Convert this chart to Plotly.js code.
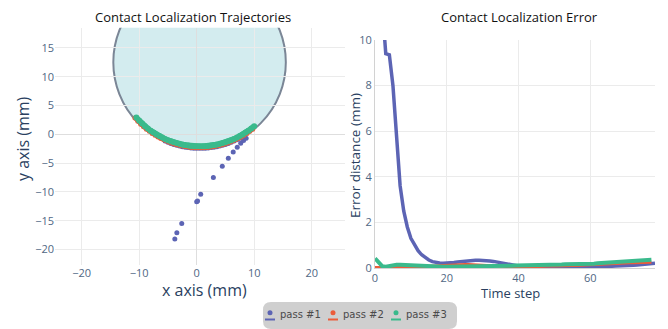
<!DOCTYPE html>
<html>
<head>
<meta charset="utf-8">
<script src="https://cdn.plot.ly/plotly-3.0.1.min.js"></script>
<style>
  html, body { margin: 0; padding: 0; background: #ffffff; }
  #chart { width: 668px; height: 329px; }
</style>
</head>
<body>
<div id="chart"></div>
<script>
// ---- data -------------------------------------------------------------
const passNames = ['pass #1', 'pass #2', 'pass #3'];

// estimated contact points (mm), one list per pass
const pass1X = [-3.8, -3.45, -2.6, 0.0, 0.15, 0.7, 2.9, 4.45, 5.5, 6.35, 7.05, 7.65, 8.15, 8.6,
  8.0, 7.5, 7.0, 6.5, 6.0, 5.5, 5.0, 4.5, 4.0, 3.5, 3.0, 2.5, 2.0, 1.5, 1.0, 0.5, 0.0,
  -0.5, -1.0, -1.5, -2.0, -2.5, -3.0, -3.5, -4.0, -4.5, -5.0, -5.5];
const pass1Y = [-18.2, -17.1, -15.5, -11.7, -11.6, -10.4, -7.5, -5.55, -4.15, -3.1, -2.25, -1.55, -1.1, -0.7,
  -0.43, -0.71, -0.96, -1.19, -1.40, -1.59, -1.76, -1.91, -2.03, -2.15, -2.24, -2.32, -2.37, -2.42, -2.44, -2.45, -2.44,
  -2.42, -2.37, -2.32, -2.24, -2.15, -2.03, -1.91, -1.76, -1.59, -1.40, -1.19];

const pass2X = [-10.75, -10.25, -9.75, -9.25, -8.75, -8.25, -7.75, -7.25, -6.75, -6.25, -5.75, -5.25, -4.75, -4.25,
  -3.75, -3.25, -2.75, -2.25, -1.75, -1.25, -0.75, -0.25, 0.25, 0.75, 1.25, 1.75, 2.25, 2.75, 3.25, 3.75,
  4.25, 4.75, 5.25, 5.75, 6.25, 6.75, 7.25, 7.75, 8.25, 8.75, 9.25, 9.75];
const pass2Y = [2.81, 2.26, 1.75, 1.30, 0.88, 0.50, 0.15, -0.17, -0.46, -0.73, -0.97, -1.19, -1.39, -1.57,
  -1.73, -1.87, -1.99, -2.09, -2.18, -2.25, -2.30, -2.33, -2.35, -2.35, -2.33, -2.30, -2.25, -2.18, -2.09, -1.99,
  -1.87, -1.73, -1.57, -1.39, -1.19, -0.97, -0.73, -0.46, -0.17, 0.15, 0.50, 0.88];

const pass3X = [-10.5, -10.0, -9.5, -9.0, -8.5, -8.0, -7.5, -7.0, -6.5, -6.0, -5.5, -5.0, -4.5, -4.0,
  -3.5, -3.0, -2.5, -2.0, -1.5, -1.0, -0.5, 0.0, 0.5, 1.0, 1.5, 2.0, 2.5, 3.0, 3.5, 4.0,
  4.5, 5.0, 5.5, 6.0, 6.5, 7.0, 7.5, 8.0, 8.5, 9.0, 9.5, 10.0];
const pass3Y = [2.90, 2.36, 1.86, 1.41, 1.00, 0.63, 0.29, -0.03, -0.31, -0.57, -0.81, -1.02, -1.22, -1.39,
  -1.54, -1.67, -1.79, -1.88, -1.96, -2.02, -2.07, -2.09, -2.10, -2.09, -2.07, -2.02, -1.96, -1.88, -1.79, -1.67,
  -1.54, -1.39, -1.22, -1.02, -0.81, -0.57, -0.31, -0.03, 0.29, 0.63, 1.00, 1.41];

// object outline (mm)
const objectCenterX = 0.5;
const objectCenterY = 12.5;
const objectRadius = 15;

// localization error per time step (mm)
const error1 = [13.5, 12.6, 11.5, 9.4, 9.35, 8.0, 5.9, 3.6, 2.5, 1.8,
  1.3, 1.0, 0.76, 0.58, 0.45, 0.35, 0.28, 0.24, 0.22, 0.21,
  0.21, 0.22, 0.24, 0.26, 0.28, 0.30, 0.32, 0.33, 0.34, 0.34,
  0.34, 0.33, 0.31, 0.29, 0.26, 0.23, 0.19, 0.15, 0.12, 0.09,
  0.07, 0.06, 0.05, 0.05, 0.05, 0.05, 0.05, 0.06, 0.06, 0.06,
  0.07, 0.07, 0.07, 0.08, 0.08, 0.08, 0.08, 0.08, 0.08, 0.08,
  0.08, 0.08, 0.08, 0.08, 0.08, 0.08, 0.08, 0.09, 0.09, 0.09,
  0.10, 0.11, 0.12, 0.13, 0.14, 0.15, 0.17, 0.19, 0.21];
const error2 = [0.02, 0.01, 0.00, 0.02, 0.04, 0.06, 0.05, 0.04, 0.03, 0.03,
  0.03, 0.04, 0.05, 0.06, 0.07, 0.08, 0.09, 0.10, 0.11, 0.12,
  0.13, 0.14, 0.14, 0.15, 0.15, 0.15, 0.15, 0.14, 0.14, 0.13,
  0.12, 0.11, 0.10, 0.09, 0.08, 0.07, 0.06, 0.05, 0.05, 0.04,
  0.04, 0.04, 0.05, 0.05, 0.06, 0.07, 0.07, 0.08, 0.08, 0.09,
  0.09, 0.10, 0.10, 0.10, 0.11, 0.11, 0.11, 0.12, 0.12, 0.12,
  0.13, 0.13, 0.14, 0.15, 0.16, 0.17, 0.18, 0.19, 0.20, 0.21,
  0.22, 0.23, 0.23, 0.24, 0.24, 0.25, 0.25, 0.25];
const error3 = [0.42, 0.25, 0.08, 0.06, 0.10, 0.13, 0.14, 0.14, 0.13, 0.12,
  0.11, 0.10, 0.09, 0.08, 0.07, 0.07, 0.06, 0.06, 0.06, 0.06,
  0.06, 0.06, 0.06, 0.06, 0.06, 0.06, 0.07, 0.07, 0.07, 0.07,
  0.08, 0.08, 0.08, 0.09, 0.09, 0.09, 0.10, 0.10, 0.10, 0.11,
  0.11, 0.12, 0.12, 0.12, 0.13, 0.13, 0.13, 0.14, 0.14, 0.14,
  0.15, 0.15, 0.15, 0.16, 0.16, 0.16, 0.17, 0.17, 0.17, 0.18,
  0.18, 0.19, 0.21, 0.22, 0.24, 0.25, 0.27, 0.28, 0.30, 0.31,
  0.32, 0.33, 0.34, 0.34, 0.35, 0.35, 0.36, 0.36];

// ---- styling ----------------------------------------------------------
const W = 668, H = 329;
const colors = ['rgb(92,100,180)', 'rgb(235,92,58)', 'rgb(58,186,140)'];
const tickFont = { family: 'Open Sans, sans-serif', size: 11, color: '#506784' };
const gridColor = '#ebebeb';
const axisTitleColor = '#2a3f5f';

// pixel helpers for paper-referenced items
const px = v => v / W;
const py = v => 1 - v / H;

const contactX = [pass1X, pass2X, pass3X];
const contactY = [pass1Y, pass2Y, pass3Y];
const errors = [error1, error2, error3];
// the sliding passes along the surface are dense enough to read as a band
const contactModes = ['markers', 'lines+markers', 'lines+markers'];
const markerSizes = [5, 5, 6];
const bandWidths = [0, 4, 5.5];
const lineWidths = [3.5, 3, 4];

const traces = [];
passNames.forEach((name, i) => {
  traces.push({
    type: 'scatter', mode: contactModes[i], name: name,
    x: contactX[i], y: contactY[i],
    xaxis: 'x', yaxis: 'y',
    marker: { color: colors[i], size: markerSizes[i] },
    line: { color: colors[i], width: bandWidths[i] },
    showlegend: false
  });
});
passNames.forEach((name, i) => {
  traces.push({
    type: 'scatter', mode: 'lines', name: name,
    x: errors[i].map((_, t) => t), y: errors[i],
    xaxis: 'x2', yaxis: 'y2',
    line: { color: colors[i], width: lineWidths[i] },
    showlegend: false
  });
});

// legend: rounded grey box with a dot-over-line swatch per pass
const box = { x0: 263, x1: 457, y0: 302, y1: 329, r: 8 };
const legendPath =
  `M ${px(box.x0 + box.r)},${py(box.y0)} L ${px(box.x1 - box.r)},${py(box.y0)} ` +
  `Q ${px(box.x1)},${py(box.y0)} ${px(box.x1)},${py(box.y0 + box.r)} ` +
  `L ${px(box.x1)},${py(box.y1 - box.r)} Q ${px(box.x1)},${py(box.y1)} ${px(box.x1 - box.r)},${py(box.y1)} ` +
  `L ${px(box.x0 + box.r)},${py(box.y1)} Q ${px(box.x0)},${py(box.y1)} ${px(box.x0)},${py(box.y1 - box.r)} ` +
  `L ${px(box.x0)},${py(box.y0 + box.r)} Q ${px(box.x0)},${py(box.y0)} ${px(box.x0 + box.r)},${py(box.y0)} Z`;

const shapes = [
  {
    type: 'circle', xref: 'x', yref: 'y', layer: 'below',
    x0: objectCenterX - objectRadius, x1: objectCenterX + objectRadius,
    y0: objectCenterY - objectRadius, y1: objectCenterY + objectRadius,
    fillcolor: '#d3ecef', line: { color: '#7b8696', width: 2 }
  },
  {
    type: 'path', xref: 'paper', yref: 'paper', layer: 'below',
    path: legendPath, fillcolor: '#cfcfcf', line: { width: 0 }
  }
];

const titleFont = { family: 'Open Sans, sans-serif', size: 13, color: '#111111' };
const annotations = [
  { text: 'Contact Localization Trajectories', x: px(193), y: py(17), font: titleFont },
  { text: 'Contact Localization Error', x: px(519), y: py(17), font: titleFont },
  { text: 'x axis (mm)', x: px(204), y: py(290),
    font: { family: 'Open Sans, sans-serif', size: 16, color: axisTitleColor } },
  { text: 'y axis (mm)', x: px(23), y: py(139), textangle: -90,
    font: { family: 'Open Sans, sans-serif', size: 16, color: axisTitleColor } },
  { text: 'Time step', x: px(511), y: py(292.5),
    font: { family: 'Open Sans, sans-serif', size: 13, color: axisTitleColor } },
  { text: 'Error distance (mm)', x: px(355), y: py(156), textangle: -90,
    font: { family: 'Open Sans, sans-serif', size: 13.5, color: axisTitleColor } }
].map(a => Object.assign({ xref: 'paper', yref: 'paper', xanchor: 'center', yanchor: 'middle', showarrow: false }, a));

const itemX = [270, 333, 396];
passNames.forEach((name, i) => {
  const cx = itemX[i];
  shapes.push({
    type: 'circle', xref: 'paper', yref: 'paper',
    x0: px(cx - 2.5), x1: px(cx + 2.5), y0: py(315.2), y1: py(310.2),
    fillcolor: colors[i], line: { width: 0 }
  });
  shapes.push({
    type: 'line', xref: 'paper', yref: 'paper',
    x0: px(cx - 5), x1: px(cx + 5), y0: py(319.5), y1: py(319.5),
    line: { color: colors[i], width: 2 }
  });
  annotations.push({
    text: name, xref: 'paper', yref: 'paper',
    x: px(cx + 8), y: py(314.5), xanchor: 'left', yanchor: 'middle', showarrow: false,
    font: { family: 'DejaVu Sans, sans-serif', size: 10, color: '#4a4a4a' }
  });
});

const layout = {
  width: W, height: H,
  margin: { l: 0, r: 0, t: 0, b: 0 },
  paper_bgcolor: '#ffffff', plot_bgcolor: '#ffffff',
  showlegend: false,
  xaxis: {
    domain: [px(55), px(345)], range: [-24.64, 25.79], anchor: 'y',
    dtick: 10, gridcolor: gridColor, zerolinecolor: '#dedede', zerolinewidth: 1,
    tickfont: tickFont, showline: false
  },
  yaxis: {
    domain: [py(265), py(27.7)], range: [-22.7, 18.5], anchor: 'x',
    dtick: 5, gridcolor: gridColor, zerolinecolor: '#dedede', zerolinewidth: 1,
    tickfont: tickFont, showline: false
  },
  xaxis2: {
    domain: [px(375), px(655)], range: [0, 78], anchor: 'y2',
    dtick: 20, gridcolor: gridColor, zeroline: false,
    showline: true, linecolor: '#d2d2d2', linewidth: 1,
    tickfont: tickFont
  },
  yaxis2: {
    domain: [py(268), py(40)], range: [0, 10], anchor: 'x2',
    dtick: 2, gridcolor: gridColor, zeroline: false,
    showline: true, linecolor: '#d2d2d2', linewidth: 1,
    tickfont: tickFont
  },
  shapes: shapes,
  annotations: annotations
};

Plotly.newPlot('chart', traces, layout, { staticPlot: true, displayModeBar: false });
</script>
</body>
</html>
